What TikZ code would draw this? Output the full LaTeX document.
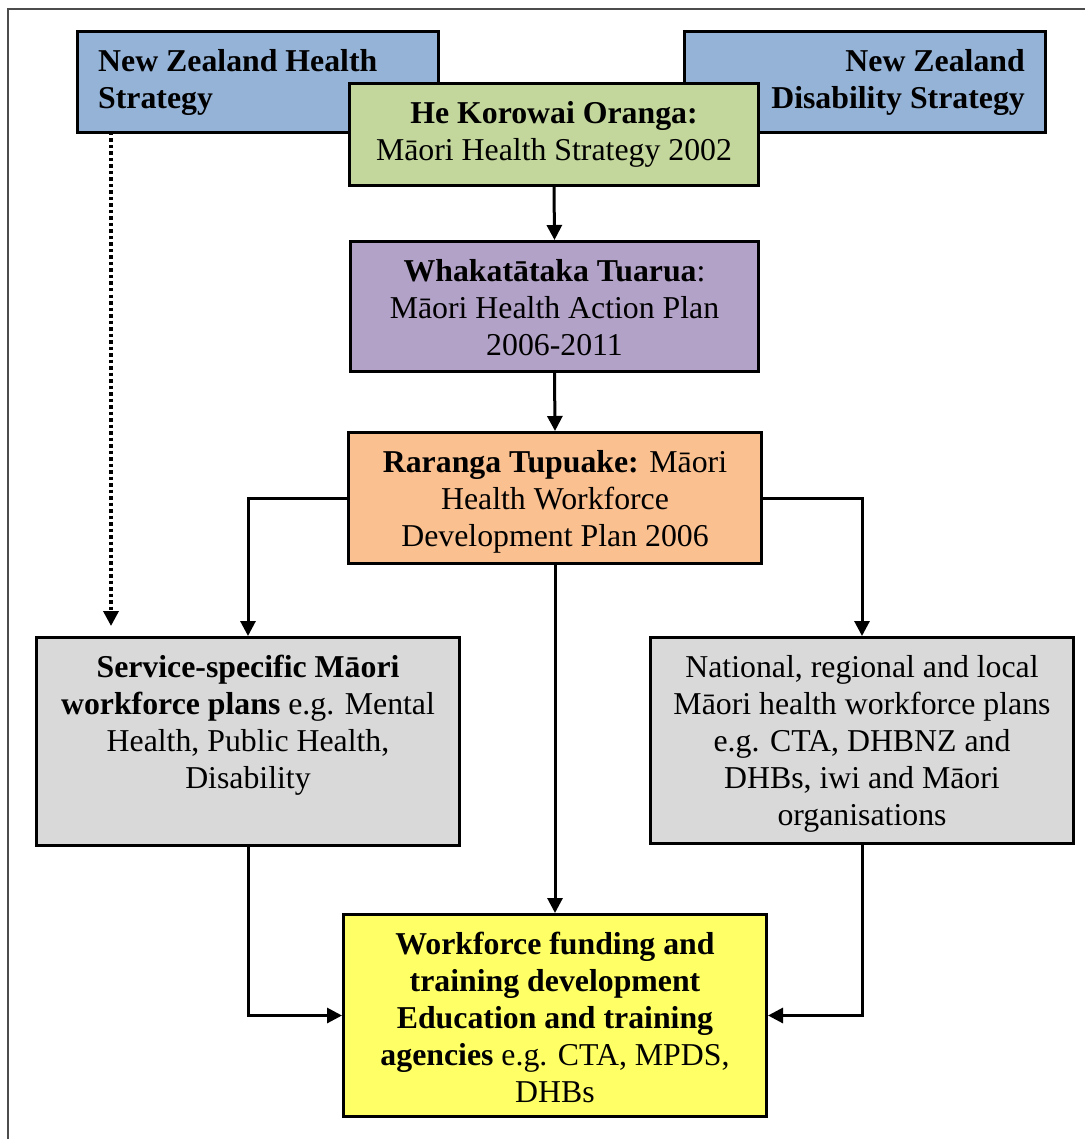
\documentclass[tikz,border=0pt]{standalone}
\usepackage{fontspec}
\setmainfont{Liberation Serif}
\usetikzlibrary{arrows.meta}
\definecolor{cblue}{HTML}{95B3D7}
\definecolor{cgreen}{HTML}{C3D69B}
\definecolor{cpurple}{HTML}{B2A2C7}
\definecolor{corange}{HTML}{FAC090}
\definecolor{cgrey}{HTML}{D9D9D9}
\definecolor{cyellow}{HTML}{FFFF66}
\newcommand\mystrut{\rule{0pt}{41pt}}
\tikzset{
  box/.style={draw=black, line width=3pt, inner sep=0pt, anchor=north west},
  txt/.style={inner sep=0pt, font=\fontsize{31.8pt}{37pt}\selectfont},
  conn/.style={line width=3pt, -{Triangle[length=15pt,width=15pt]}},
  dotconn/.style={line width=3.5pt, dash pattern=on 3.5pt off 3pt, -{Triangle[length=15pt,width=15pt]}}
}
\begin{document}
\begin{tikzpicture}[x=1pt,y=-1pt]
\useasboundingbox (0,0) rectangle (1084,1139);
\draw[line width=2pt, color=black!70] (8,1150) -- (8,9) -- (1095,9);
% top boxes
\node[box, fill=cblue, minimum width=361pt, minimum height=101pt] (nzhs) at (76,30) {};
\node[txt, anchor=north west, align=left] (nzhst) at ([xshift=22pt]nzhs.north west) {\mystrut\bfseries New Zealand Health\\\bfseries Strategy};
\node[box, fill=cblue, minimum width=361pt, minimum height=101pt] (nzds) at (683,30) {};
\node[txt, anchor=north east, align=right] (nzdst) at ([xshift=-22pt]nzds.north east) {\mystrut\bfseries New Zealand\\\bfseries Disability Strategy};
\node[box, fill=cgreen, minimum width=409pt, minimum height=102pt] (hk) at (348,82) {};
\node[txt, anchor=north, align=center] (hkt) at (hk.north) {\mystrut\textbf{He Korowai Oranga:}\\Māori Health Strategy 2002};
\node[box, fill=cpurple, minimum width=408pt, minimum height=130pt] (wh) at (349,240) {};
\node[txt, anchor=north, align=center] (wht) at (wh.north) {\mystrut\textbf{Whakatātaka Tuarua}:\\Māori Health Action Plan\\2006-2011};
\node[box, fill=corange, minimum width=413pt, minimum height=131pt] (rt) at (347,431) {};
\node[txt, anchor=north, align=center] (rtt) at (rt.north) {\mystrut\textbf{Raranga Tupuake:} Māori\\Health Workforce\\Development Plan 2006};
\node[box, fill=cgrey, minimum width=423pt, minimum height=208pt] (ss) at (35,636) {};
\node[txt, anchor=north, align=center] (sst) at (ss.north) {\mystrut\textbf{Service-specific Māori}\\\textbf{workforce plans} e.g. Mental\\Health, Public Health,\\Disability};
\node[box, fill=cgrey, minimum width=423pt, minimum height=206pt] (nr) at (649,636) {};
\node[txt, anchor=north, align=center] (nrt) at (nr.north) {\mystrut National, regional and local\\Māori health workforce plans\\e.g. CTA, DHBNZ and\\DHBs, iwi and Māori\\organisations};
\node[box, fill=cyellow, minimum width=423pt, minimum height=202pt] (wf) at (342,913) {};
\node[txt, anchor=north, align=center] (wft) at (wf.north) {\mystrut\textbf{Workforce funding and}\\\textbf{training development}\\\textbf{Education and training}\\\textbf{agencies} e.g. CTA, MPDS,\\DHBs};
% connectors
\draw[conn] (hk.south) -- (wh.north);
\draw[conn] (wh.south) -- (rt.north);
\draw[conn] (rt.west) -| (ss.north);
\draw[conn] (rt.east) -| (nr.north);
\draw[conn] (rt.south) -- (wf.north);
\draw[conn] (ss.south) |- (wf.west);
\draw[conn] (nr.south) |- (wf.east);
\coordinate (dotend) at (111,626);
\draw[dotconn] (111,132) -- (dotend);
\end{tikzpicture}
\end{document}
